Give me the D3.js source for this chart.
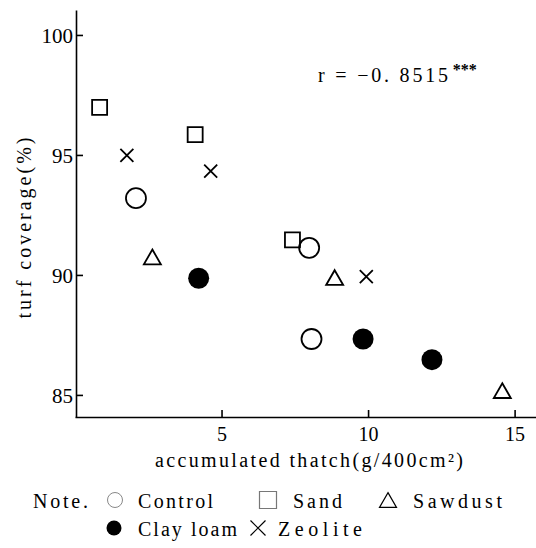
<!DOCTYPE html>
<html>
<head>
<meta charset="utf-8">
<script src="https://cdn.jsdelivr.net/npm/d3@7"></script>
<style>
  body { margin: 0; background: #fff; }
  svg { display: block; font-family: "Liberation Serif", "DejaVu Serif", serif; }
</style>
</head>
<body>
<svg></svg>
<script>
// data
const groups = ["Control", "Sand", "Sawdust", "Clay loam", "Zeolite"];
const controlX = [2.08, 7.99, 8.07];
const controlY = [93.2, 91.13, 87.33];
const sandX = [0.84, 4.10, 7.42];
const sandY = [96.98, 95.85, 91.46];
const sawdustX = [2.64, 8.86, 14.58];
const sawdustY = [90.75, 89.89, 85.18];
const clayX = [4.22, 9.83, 12.18];
const clayY = [89.86, 87.33, 86.47];
const zeoliteX = [1.77, 4.63, 9.94];
const zeoliteY = [94.98, 94.33, 89.93];
const xTicks = [5, 10, 15];
const yTicks = [85, 90, 95, 100];

const series = [
    { name: "Control", kind: "circle", xs: controlX, ys: controlY },
    { name: "Sand", kind: "square", xs: sandX, ys: sandY },
    { name: "Sawdust", kind: "triangle", xs: sawdustX, ys: sawdustY },
    { name: "Clay loam", kind: "dot", xs: clayX, ys: clayY },
    { name: "Zeolite", kind: "times", xs: zeoliteX, ys: zeoliteY }
];

const svg = d3.select("svg").attr("width", 536).attr("height", 548);

const x = d3.scaleLinear().domain([0, 15.73]).range([75, 536]);
const y = d3.scaleLinear().domain([84.08, 101.04]).range([417, 10]);

// shape outline centred on 0,0; s = overall size
function shape(kind, s) {
    const h = s / 2;
    if (kind === "square") return `M${-h},${-h}H${h}V${h}H${-h}Z`;
    if (kind === "triangle") {
        const th = s * 0.87 / 2;
        return `M0,${-th}L${h},${th}L${-h},${th}Z`;
    }
    if (kind === "times") return `M${-h},${-h}L${h},${h}M${h},${-h}L${-h},${h}`;
    return null;
}

function drawMark(g, kind, cx, cy, big) {
    if (kind === "circle" || kind === "dot") {
        g.append("circle")
            .attr("cx", cx).attr("cy", cy)
            .attr("r", big ? (kind === "dot" ? 10.5 : 10) : 7.5)
            .attr("fill", kind === "dot" ? "#000" : "#fff")
            .attr("stroke", kind === "dot" ? "none" : (big ? "#000" : "#888"))
            .attr("stroke-width", big ? 1.8 : 1);
    } else {
        const size = big ? (kind === "times" ? 13 : 15) : (kind === "square" ? 17 : 15);
        g.append("path")
            .attr("transform", `translate(${cx},${cy})`)
            .attr("d", shape(kind, kind === "triangle" ? size + 2 : size))
            .attr("fill", "none")
            .attr("stroke", !big && kind === "square" ? "#777" : "#000")
            .attr("stroke-width", big ? 1.8 : 1.2);
    }
}

// axes
const yAxis = d3.axisLeft(y).tickValues(yTicks).tickSize(-7).tickSizeOuter(0).tickPadding(3);
const xAxis = d3.axisBottom(x).tickValues(xTicks).tickSize(-7).tickSizeOuter(0).tickPadding(10);

const gy = svg.append("g").attr("transform", "translate(76,0)").call(yAxis);
const gx = svg.append("g").attr("transform", "translate(0,417)").call(xAxis);
[gx, gy].forEach(function(g) {
    g.selectAll("path, line").attr("stroke", "#000").attr("stroke-width", 1.6);
    g.selectAll("text").attr("font-size", 20).attr("fill", "#000")
        .attr("font-family", "Liberation Serif, serif");
});
gy.selectAll("text").attr("dy", "0.36em").attr("font-size", 21);

// points
const pts = svg.append("g");
series.forEach(function(s) {
    s.xs.forEach(function(v, i) {
        drawMark(pts, s.kind, x(v), y(s.ys[i]), true);
    });
});

// axis titles
svg.append("text")
    .attr("x", 155).attr("y", 467)
    .attr("font-size", 20)
    .attr("textLength", 308).attr("lengthAdjust", "spacing")
    .text("accumulated thatch(g/400cm²)");

svg.append("text")
    .attr("transform", "translate(31,228) rotate(-90)")
    .attr("text-anchor", "middle")
    .attr("font-size", 20)
    .attr("textLength", 181).attr("lengthAdjust", "spacing")
    .text("turf coverage(%)");

// correlation note
const rt = svg.append("text").attr("x", 318).attr("y", 82).attr("font-size", 20);
rt.append("tspan").attr("textLength", 130).attr("lengthAdjust", "spacing").text("r = \u22120. 8515");
rt.append("tspan").attr("dx", 2).attr("dy", -7).attr("font-size", 16).attr("font-weight", "bold").text("***");

// legend
const slots = [[115, 500], [268, 500], [388, 500], [114, 528], [258, 528]];
const labelX = [138, 293, 413, 138, 278];
const labelW = [75, 49, 89, 99, 84];
const leg = svg.append("g");
leg.append("text").attr("x", 33).attr("y", 508).attr("font-size", 20)
    .attr("textLength", 55).attr("lengthAdjust", "spacing").text("Note.");
series.forEach(function(s, i) {
    drawMark(leg, s.kind, slots[i][0], slots[i][1], false);
    leg.append("text")
        .attr("x", labelX[i]).attr("y", slots[i][1] + 8)
        .attr("font-size", 20)
        .attr("textLength", labelW[i]).attr("lengthAdjust", "spacing")
        .text(groups[i]);
});
</script>
</body>
</html>
